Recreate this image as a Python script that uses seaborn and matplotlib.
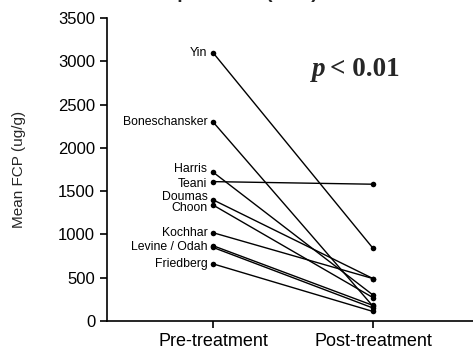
import matplotlib
matplotlib.use("Agg")
import matplotlib.pyplot as plt
import seaborn as sns
import pandas as pd

studies = ["Yin", "Boneschansker", "Harris", "Teani", "Doumas", "Choon",
           "Kochhar", "Levine", "Odah", "Friedberg"]
pre_values = [3100, 2300, 1720, 1610, 1400, 1340, 1020, 870, 850, 660]
post_values = [840, 170, 300, 1580, 490, 270, 490, 180, 150, 110]
study_labels = ["Yin", "Boneschansker", "Harris", "Teani", "Doumas", "Choon",
                "Kochhar", "Levine / Odah", None, "Friedberg"]
groups = ["Pre-treatment", "Post-treatment"]
y_ticks = [0, 500, 1000, 1500, 2000, 2500, 3000, 3500]

rows = []
for s, a, b in zip(studies, pre_values, post_values):
    rows.append({"study": s, "pos": 0, "value": a})
    rows.append({"study": s, "pos": 1, "value": b})
df = pd.DataFrame(rows)

sns.set_theme(style="ticks")
plt.rcParams['font.family'] = ['Liberation Sans', 'DejaVu Sans']

fig = plt.figure(figsize=(4.73, 3.51), dpi=100)
ax = fig.add_axes([107/473, 1 - 321/351, (473 - 107)/473, (321 - 18)/351])

sns.lineplot(data=df, x="pos", y="value", units="study", estimator=None,
             color="black", linewidth=1.0, ax=ax, legend=False)
sns.scatterplot(data=df, x="pos", y="value", color="black", s=16,
                edgecolor="black", linewidth=0, ax=ax, legend=False, zorder=3)

offsets = {"Harris": 30, "Teani": -25, "Doumas": 35, "Choon": -35}
for lab, v in zip(study_labels, pre_values):
    if lab is None:
        continue
    yy = v if lab != "Levine / Odah" else (pre_values[7] + pre_values[8]) / 2
    yy += offsets.get(lab, 0)
    ax.text(-0.035, yy, lab, ha="right", va="center", fontsize=8.8, color="black")

ax.set_xlim(-0.6625, 1.625)
ax.set_ylim(0, 3500)
ax.set_xticks([0, 1])
ax.set_xticklabels(groups, fontsize=13)
ax.set_yticks(y_ticks)
ax.set_yticklabels([str(t) for t in y_ticks], fontsize=12)
ax.set_xlabel("")
ax.set_ylabel("Mean FCP (ug/g)", fontsize=11)
ax.yaxis.set_label_coords(-0.22, 0.5)
for sp in ["top", "right"]:
    ax.spines[sp].set_visible(False)
for sp in ["left", "bottom"]:
    ax.spines[sp].set_linewidth(1.2)
    ax.spines[sp].set_color("black")
ax.tick_params(axis="both", length=5, width=1.2, color="black", labelcolor="black")

fig.text(312/473, 1 - 70/351, "p", fontsize=19.5, ha="left", va="center",
         family="Liberation Serif", fontweight="bold", style="italic")
fig.text(330/473, 1 - 70/351, "< 0.01", fontsize=19.5, ha="left", va="center",
         family="Liberation Serif", fontweight="bold")

fig.text(95/473, 1 + 2.5/351, "Fecal calprotectin (FCP)", fontsize=14,
         fontweight="bold", ha="left", va="baseline")

fig.savefig("out.png", dpi=100)
